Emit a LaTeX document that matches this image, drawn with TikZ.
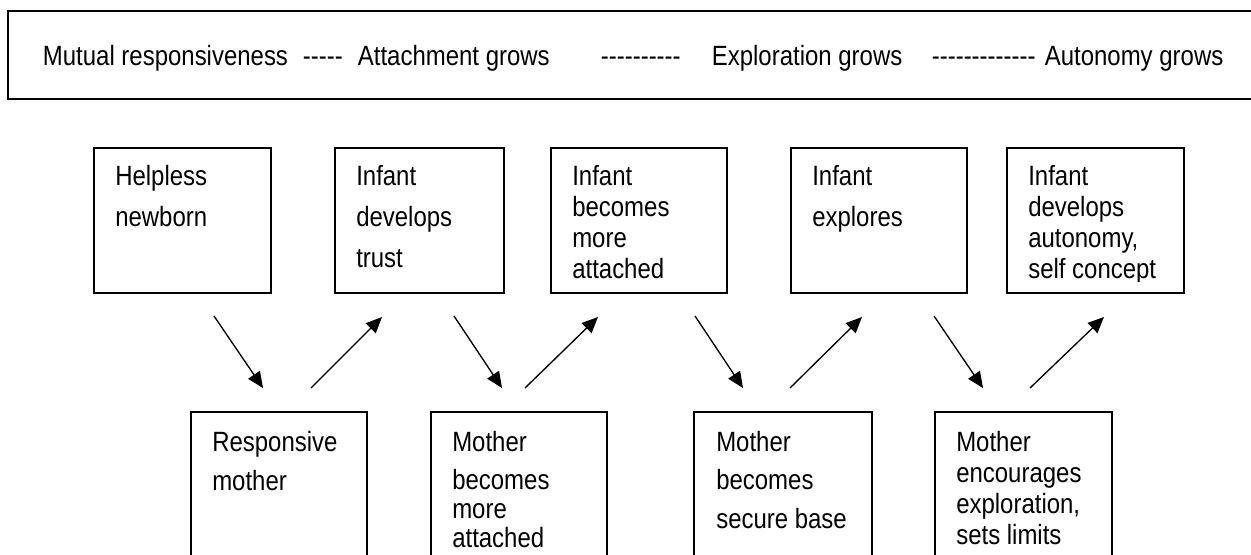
\documentclass[tikz,border=0pt]{standalone}
\usepackage{fontspec}
\setmainfont{Liberation Sans}[FakeStretch=0.86]
\usetikzlibrary{arrows.meta}
\newlength{\pxu}\setlength{\pxu}{0.75pt}
\newcommand{\plines}[2]{\parbox[t]{300pt}{\setlength{\baselineskip}{#1}\setlength{\lineskiplimit}{-100pt}\raggedright #2}}
\newcommand{\seg}[2]{\makebox[0pt][l]{\hspace{#1\pxu}#2}}
\newcommand{\hy}{-{}}
\begin{document}
\begin{tikzpicture}[x=0.75pt,y=-0.75pt,
  boxstyle/.style={draw, line width=1pt, inner sep=0pt, outer sep=0pt, anchor=north west, minimum height=108.75pt},
  lowbox/.style={draw, line width=1pt, inner sep=0pt, outer sep=0pt, anchor=north west, minimum height=120pt},
  txt/.style={anchor=base west, inner sep=0pt, font=\fontsize{20.9pt}{25pt}\selectfont},
  arr/.style={line width=1pt, -{Triangle[length=12pt,width=10.5pt]}},
]
\path[use as bounding box] (0,0) rectangle (1251,554);
\clip (0,0) rectangle (1251,554);
\fill[white] (0,0) rectangle (1251,554);

% banner
\node[draw, line width=1.5pt, inner sep=0pt, outer sep=0pt, anchor=north west, minimum width=950pt, minimum height=66pt] (banner) at (8,11) {};
\node[txt] (bannertext) at (42,65) {\seg{0}{Mutual responsiveness}\seg{260}{\hy\hy\hy\hy\hy}\seg{315}{Attachment grows}\seg{558}{\hy\hy\hy\hy\hy\hy\hy\hy\hy\hy}\seg{669}{Exploration grows}\seg{889}{\hy\hy\hy\hy\hy\hy\hy\hy\hy\hy\hy\hy\hy}\seg{1002}{Autonomy grows}};

% top boxes
\node[boxstyle, minimum width=132.75pt] (t1) at (94,148) {};
\node[boxstyle, minimum width=126.75pt] (t2) at (335,148) {};
\node[boxstyle, minimum width=132pt] (t3) at (551,148) {};
\node[boxstyle, minimum width=132pt] (t4) at (791,148) {};
\node[boxstyle, minimum width=132.75pt] (t5) at (1007,148) {};

\node[txt] (t1x) at (115,185) {\plines{30.75pt}{Helpless\\newborn}};
\node[txt] (t2x) at (356,185) {\plines{30.75pt}{Infant\\develops\\trust}};
\node[txt] (t3x) at (572,185) {\plines{23.25pt}{Infant\\becomes\\more\\attached}};
\node[txt] (t4x) at (812,185) {\plines{30.75pt}{Infant\\explores}};
\begin{scope}
\clip (1007,148) rectangle (1184,281);
\node[txt] (t5x) at (1028,185) {\plines{23.25pt}{Infant\\develops\\autonomy,\\self concept}};
\end{scope}

% bottom boxes
\node[lowbox, minimum width=132pt] (b1) at (191,412) {};
\node[lowbox, minimum width=132pt] (b2) at (431,412) {};
\node[lowbox, minimum width=133.5pt] (b3) at (694,412) {};
\node[lowbox, minimum width=132.75pt] (b4) at (935,412) {};

\node[txt] (b1x) at (212,451) {\plines{29.25pt}{Responsive\\mother}};
\node[txt] (b2x) at (452,451) {\plines{21.5pt}{Mother\\[7.5pt]becomes\\more\\attached}};
\node[txt] (b3x) at (716,451) {\plines{29pt}{Mother\\becomes\\secure base}};
\node[txt] (b4x) at (956,451) {\plines{23.25pt}{Mother\\encourages\\exploration,\\sets limits}};

% arrow end points
\coordinate (d1s) at (214,316); \coordinate (d1e) at (263,388);
\coordinate (u1s) at (311,388); \coordinate (u1e) at (382,317);
\coordinate (d2s) at (454,316); \coordinate (d2e) at (502,388);
\coordinate (u2s) at (525,388); \coordinate (u2e) at (598,317);
\coordinate (d3s) at (695,316); \coordinate (d3e) at (743,388);
\coordinate (u3s) at (790,388); \coordinate (u3e) at (862,317);
\coordinate (d4s) at (934,316); \coordinate (d4e) at (983,388);
\coordinate (u4s) at (1030,388); \coordinate (u4e) at (1104,317);

\foreach \a in {d1,u1,d2,u2,d3,u3,d4,u4}{
  \draw[arr] (\a s) -- (\a e);
}
\end{tikzpicture}
\end{document}
